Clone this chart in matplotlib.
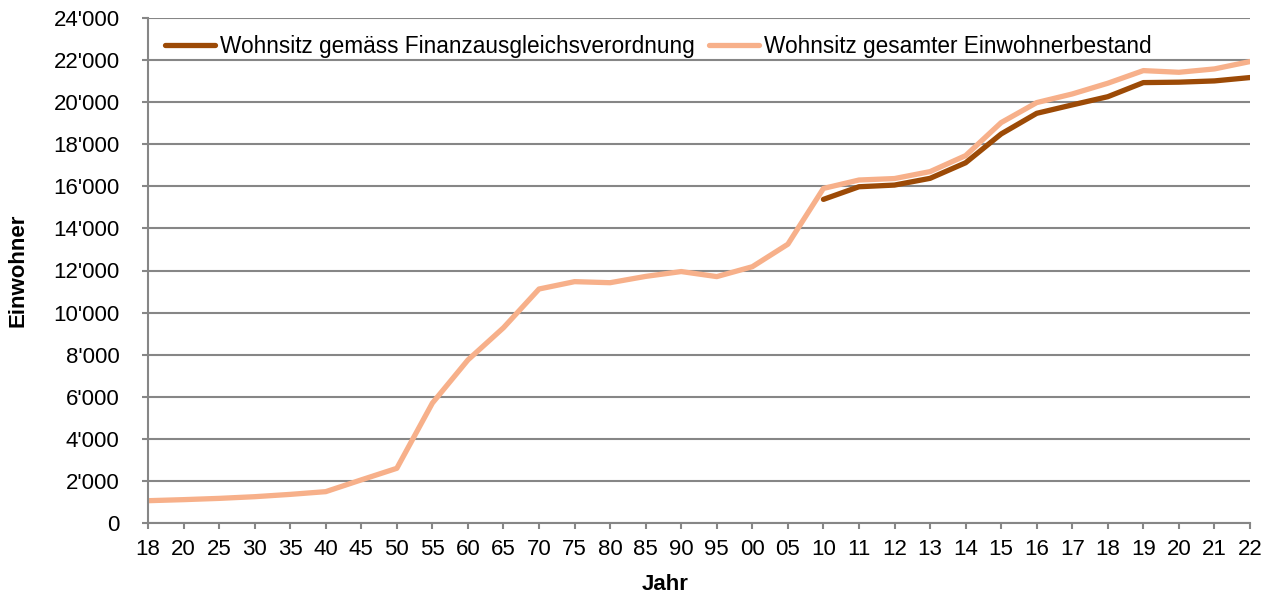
import matplotlib
matplotlib.use("Agg")
import matplotlib.pyplot as plt
from matplotlib.ticker import FuncFormatter

plt.rcParams['font.family'] = ['Liberation Sans', 'DejaVu Sans']

years = ["18", "20", "25", "30", "35", "40", "45", "50", "55", "60", "65", "70",
         "75", "80", "85", "90", "95", "00", "05", "10", "11", "12", "13", "14",
         "15", "16", "17", "18", "19", "20", "21", "22"]

gesamt = [1060, 1110, 1170, 1250, 1360, 1490, 2050, 2600, 5700, 7750, 9280,
          11120, 11470, 11420, 11720, 11950, 11710, 12180, 13250, 15900, 16300,
          16370, 16700, 17460, 19030, 19980, 20390, 20900, 21500, 21420, 21580,
          21930]

finanz_start = 19
finanz = [15380, 15980, 16060, 16380, 17120, 18490, 19470, 19870, 20260,
          20930, 20950, 21010, 21170]

label_finanz = "Wohnsitz gemäss Finanzausgleichsverordnung"
label_gesamt = "Wohnsitz gesamter Einwohnerbestand"

c_dark = "#9C4A06"
c_light = "#F7B08A"
grid_c = "#868686"

fig = plt.figure(figsize=(12.7, 6.01), dpi=100)
ax = fig.add_axes([148/1270, 78/601, 1102/1270, 505/601])

x_all = list(range(len(years)))
ax.plot(x_all[finanz_start:], finanz, color=c_dark, lw=3.8, solid_capstyle='round',
        label=label_finanz, zorder=3)
ax.plot(x_all, gesamt, color=c_light, lw=3.8, solid_capstyle='round',
        label=label_gesamt, zorder=2)

ax.set_xlim(0, len(years) - 1)
ax.set_ylim(0, 24000)
ax.set_yticks(range(0, 24001, 2000))
ax.yaxis.set_major_formatter(FuncFormatter(lambda v, p: f"{int(v):,}".replace(",", "'")))
ax.set_xticks(x_all)
ax.set_xticklabels(years)

ax.grid(axis='y', color=grid_c, lw=1.5, zorder=0)
ax.set_axisbelow(True)
for s in ['top', 'right']:
    ax.spines[s].set_visible(False)
ax.spines['left'].set_color(grid_c)
ax.spines['left'].set_linewidth(1.5)
ax.spines['bottom'].set_color(grid_c)
ax.spines['bottom'].set_linewidth(1.5)
ax.tick_params(axis='both', colors=grid_c, width=1.5, length=4.5, labelcolor='black',
               labelsize=16)
ax.tick_params(axis='y', pad=16)
ax.tick_params(axis='x', pad=7)

ax.set_xlabel("Jahr", fontsize=16, fontweight='bold')
ax.set_ylabel("Einwohner", fontsize=16, fontweight='bold')
ax.xaxis.set_label_coords((665 - 148) / 1102, (523 - 585) / 505)
ax.xaxis.label.set_va('center')
ax.yaxis.set_label_coords((18 - 148) / 1102, 0.5)
ax.yaxis.label.set_va('center')

leg = ax.legend(loc='upper left', bbox_to_anchor=(0.0, 1.0), ncol=2, frameon=False,
                fontsize=16.3, handlelength=2.2, handletextpad=0.25, columnspacing=0.6,
                borderaxespad=0.55, borderpad=0.2)

fig.savefig("out.png", dpi=100)
